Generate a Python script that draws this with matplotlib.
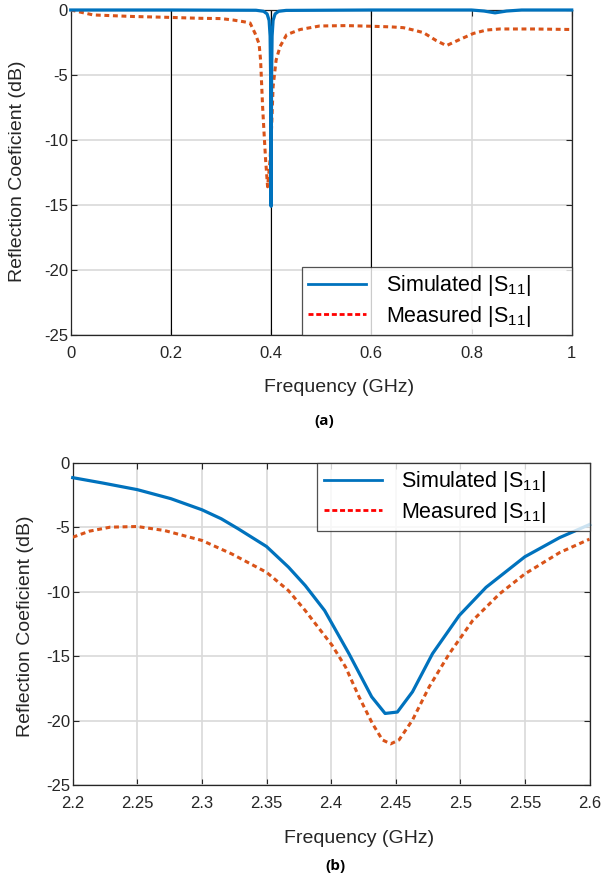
import matplotlib
matplotlib.use("Agg")
import matplotlib.pyplot as plt
from matplotlib.lines import Line2D

# (a) wide band 0-1 GHz
fa_sim = [0, 0.2, 0.37, 0.385, 0.392, 0.396, 0.398, 0.399, 0.4, 0.401, 0.402,
          0.404, 0.408, 0.415, 0.43, 0.6, 0.8, 0.825, 0.847, 0.87, 0.9, 1.0]
sa_sim = [0, 0, -0.02, -0.1, -0.3, -0.8, -2, -5, -15.1, -5, -2,
          -0.8, -0.3, -0.1, -0.03, 0, 0, -0.08, -0.22, -0.08, 0, 0]

fa_meas = [0, 0.045, 0.125, 0.19, 0.26, 0.3, 0.324, 0.345, 0.358, 0.368, 0.376,
           0.379, 0.381, 0.383, 0.386, 0.389, 0.393, 0.398, 0.401, 0.404, 0.41,
           0.418, 0.431, 0.458, 0.497, 0.55, 0.6, 0.64, 0.664, 0.684, 0.704,
           0.73, 0.75, 0.777, 0.804, 0.83, 0.857, 0.923, 1.0]
sa_meas = [0, -0.38, -0.5, -0.56, -0.64, -0.66, -0.77, -0.9, -1.0, -1.8, -2.6,
           -3.85, -5.6, -7.4, -9.5, -11.5, -13.6, -11.5, -9, -5.9, -3.85,
           -2.8, -1.9, -1.5, -1.23, -1.2, -1.25, -1.3, -1.36, -1.54, -1.74,
           -2.36, -2.74, -2.26, -1.8, -1.54, -1.46, -1.46, -1.5]

# (b) zoom 2.2-2.6 GHz
fb_sim = [2.2, 2.2234, 2.25, 2.276, 2.3, 2.315, 2.328, 2.35, 2.367, 2.38, 2.395,
          2.4138, 2.4314, 2.4418, 2.4513, 2.463, 2.4785, 2.4992, 2.5199,
          2.5499, 2.5769, 2.6]
sb_sim = [-1.16, -1.58, -2.09, -2.79, -3.65, -4.35, -5.12, -6.5, -8.1, -9.53,
          -11.47, -14.81, -18.16, -19.45, -19.34, -17.77, -14.81, -11.85,
          -9.67, -7.3, -5.81, -4.8]

fb_meas = [2.2, 2.213, 2.229, 2.25, 2.271, 2.3, 2.323, 2.35, 2.367, 2.38, 2.39,
           2.4008, 2.4112, 2.4216, 2.4319, 2.4397, 2.4461, 2.4526, 2.463, 2.4759,
           2.4915, 2.5096, 2.5303, 2.5499, 2.5769, 2.6]
sb_meas = [-5.78, -5.31, -5.0, -4.95, -5.26, -6.03, -7.07, -8.5, -9.92, -11.47,
           -12.77, -14.17, -15.85, -18.16, -20.22, -21.5, -21.81, -21.5, -19.96,
           -17.39, -14.81, -12.24, -10.18, -8.63, -6.97, -5.93]

ticks_a = [0, 0.2, 0.4, 0.6, 0.8, 1]
ticklabels_a = ["0", "0.2", "0.4", "0.6", "0.8", "1"]
ticks_b = [2.2, 2.25, 2.3, 2.35, 2.4, 2.45, 2.5, 2.55, 2.6]
ticklabels_b = ["2.2", "2.25", "2.3", "2.35", "2.4", "2.45", "2.5", "2.55", "2.6"]
yticks = [0, -5, -10, -15, -20, -25]

plt.rcParams["font.family"] = "Liberation Sans"
plt.rcParams["mathtext.default"] = "regular"
plt.rcParams["axes.unicode_minus"] = False

BLUE = "#0072BD"
ORANGE = "#D95319"
TXT = "#262626"

fig = plt.figure(figsize=(6.03, 8.8), dpi=100)
W, H = 603, 880
ax1 = fig.add_axes([70.7 / W, 1 - 335 / H, 501 / W, 325 / H])
ax2 = fig.add_axes([72.7 / W, 1 - 785 / H, 516.8 / W, 322.3 / H])

lab_sim = "Simulated |S$_{11}$|"
lab_meas = "Measured |S$_{11}$|"


def style(ax, ticks, labels, xlim):
    ax.set_xlim(xlim)
    ax.set_ylim(-25, 0)
    ax.set_xticks(ticks)
    ax.set_xticklabels(labels)
    ax.set_yticks(yticks)
    ax.grid(True, color="#d9d9d9", linewidth=1.2)
    ax.set_axisbelow(True)
    ax.tick_params(direction="in", length=4, width=0.8, colors=TXT,
                   labelsize=12, top=True, right=True)
    ax.tick_params(axis="x", pad=8)
    ax.tick_params(axis="y", pad=2)
    for s in ax.spines.values():
        s.set_color(TXT)
        s.set_linewidth(0.9)


style(ax1, ticks_a, ticklabels_a, (0, 1))
for xv in [0.2, 0.4, 0.6]:
    ax1.axvline(xv, color="black", linewidth=0.8, zorder=1.5)
ax1.plot(fa_meas, sa_meas, color=ORANGE, linewidth=2.2, dashes=(1.6, 1.2), zorder=3)
ax1.plot(fa_sim, sa_sim, color=BLUE, linewidth=2.3, zorder=4, clip_on=False)

style(ax2, ticks_b, ticklabels_b, (2.2, 2.6))
ax2.plot(fb_meas, sb_meas, color=ORANGE, linewidth=2.2, dashes=(1.6, 1.2), zorder=3)
ax2.plot(fb_sim, sb_sim, color=BLUE, linewidth=2.3, zorder=4, clip_on=False)

handles = [Line2D([], [], color=BLUE, linewidth=2.0),
           Line2D([], [], color="red", linewidth=2.0, dashes=(1.8, 1.0))]
for ax, loc, x0 in [(ax1, "lower left", 0.461), (ax2, "upper left", 0.473)]:
    leg = ax.legend(handles, [lab_sim, lab_meas], loc=loc, fontsize=15.5,
                    bbox_to_anchor=(x0, 0, 1 - x0, 1), mode="expand",
                    frameon=True, fancybox=False, borderaxespad=0,
                    handlelength=2.7, handletextpad=0.9, labelspacing=0.25,
                    borderpad=0.3)
    leg.get_frame().set_edgecolor(TXT)
    leg.get_frame().set_linewidth(0.9)
    leg.set_zorder(10)

fig.text(339 / W, 1 - 387 / H, "Frequency (GHz)", fontsize=14, color=TXT,
         ha="center", va="center")
fig.text(359 / W, 1 - 838 / H, "Frequency (GHz)", fontsize=14, color=TXT,
         ha="center", va="center")
fig.text(18 / W, 1 - 171 / H, "Reflection Coeficient (dB)", fontsize=14,
         color=TXT, ha="center", va="center", rotation=90)
fig.text(26 / W, 1 - 626 / H, "Reflection Coeficient (dB)", fontsize=14,
         color=TXT, ha="center", va="center", rotation=90)
fig.text(324 / W, 1 - 421 / H, "(a)", fontsize=11, fontweight="bold",
         family="Open Sans", ha="center", va="center")
fig.text(335 / W, 1 - 866 / H, "(b)", fontsize=11, fontweight="bold",
         family="Open Sans", ha="center", va="center")

fig.savefig("out.png", dpi=100)
